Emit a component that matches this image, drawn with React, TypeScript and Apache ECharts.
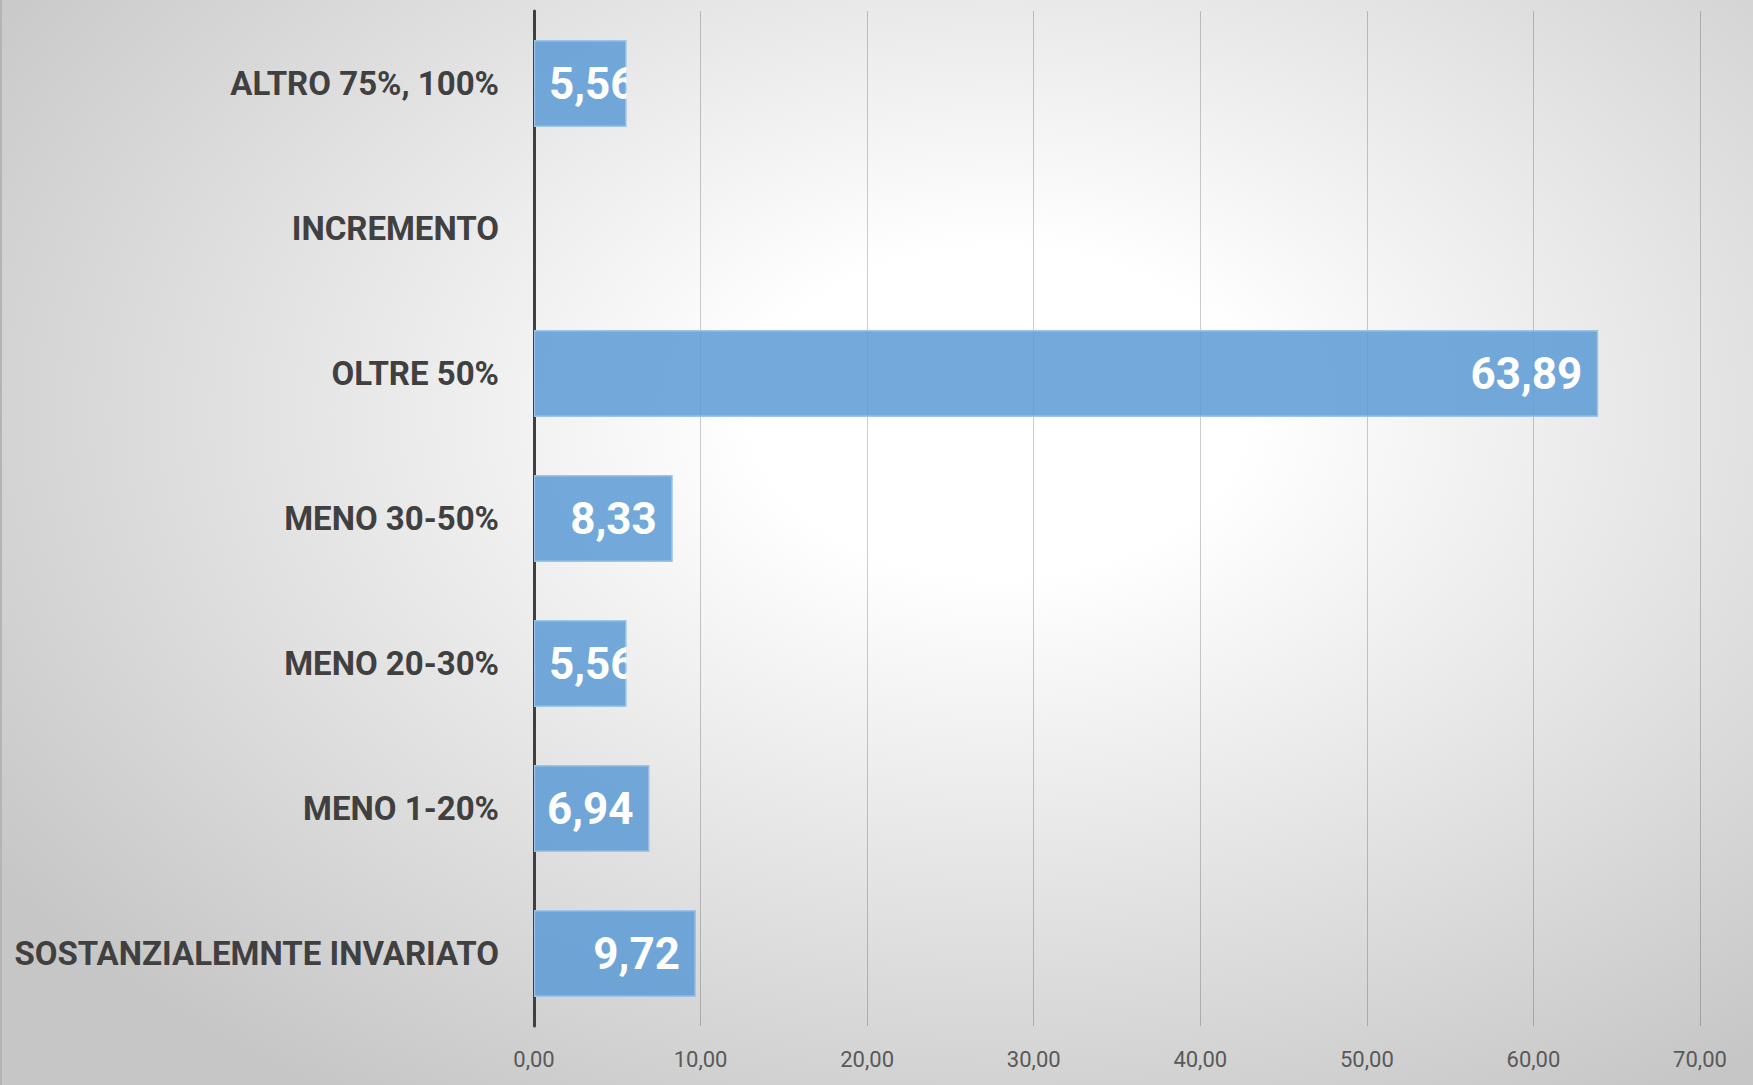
import React, { useEffect, useRef } from "react";
import * as echarts from "echarts";

const categories = [
  "SOSTANZIALEMNTE INVARIATO",
  "MENO 1-20%",
  "MENO 20-30%",
  "MENO 30-50%",
  "OLTRE 50%",
  "INCREMENTO",
  "ALTRO 75%, 100%",
];
const values: (number | null)[] = [9.72, 6.94, 5.56, 8.33, 63.89, null, 5.56];
const axisMin = 0;
const axisMax = 70;
const axisStep = 10;

const FONT = "Roboto, 'Liberation Sans', sans-serif";
const fmt = (v: number) => v.toFixed(2).replace(".", ",");
const BAR_RATIO = 0.6;

export default function App() {
  const ref = useRef<HTMLDivElement>(null);
  useEffect(() => {
    if (!ref.current) return;
    const chart = echarts.init(ref.current, undefined, { renderer: "svg" });
    const labelData = values
      .map((v, i) => (v == null ? null : [v, i]))
      .filter((d) => d != null);
    chart.setOption({
      animation: false,
      backgroundColor: "transparent",
      grid: {
        left: 534,
        right: 53,
        top: 11,
        bottom: 59,
        containLabel: false,
        outerBoundsMode: "none",
      },
      xAxis: {
        type: "value",
        min: axisMin,
        max: axisMax,
        interval: axisStep,
        axisLine: { show: false },
        axisTick: { show: false },
        splitLine: { show: true, lineStyle: { color: "rgba(0,0,0,0.2)", width: 1 } },
        axisLabel: {
          formatter: (v: number) => fmt(v),
          color: "#595959",
          fontSize: 22,
          fontFamily: FONT,
          margin: 22,
        },
      },
      yAxis: {
        type: "category",
        data: categories,
        axisLine: { show: true, lineStyle: { color: "#404040", width: 3 } },
        axisTick: { show: false },
        axisLabel: {
          color: "#404040",
          fontSize: 33,
          fontWeight: "bold",
          fontFamily: FONT,
          margin: 35,
        },
      },
      series: [
        {
          type: "bar",
          barCategoryGap: "40%",
          itemStyle: {
            color: "rgba(91,155,213,0.85)",
            borderColor: "#9dc3e6",
            borderWidth: 1.5,
          },
          label: { show: false },
          data: values.map((v) => (v == null ? null : v)),
        },
        {
          type: "custom",
          encode: { x: 0, y: 1 },
          data: labelData,
          z: 5,
          renderItem: (params: any, api: any) => {
            const v = api.value(0);
            const cat = api.value(1);
            const p0 = api.coord([0, cat]);
            const p1 = api.coord([v, cat]);
            const h = api.size([0, 1])[1] * BAR_RATIO;
            const small = v < 6.5;
            return {
              type: "group",
              clipPath: {
                type: "rect",
                shape: { x: p0[0], y: p0[1] - h / 2, width: p1[0] - p0[0], height: h },
              },
              children: [
                {
                  type: "text",
                  x: small ? p0[0] + 15 : p1[0] - 16,
                  y: p0[1],
                  style: {
                    text: fmt(v),
                    fill: "#ffffff",
                    font: `bold 44px ${FONT}`,
                    textAlign: small ? "left" : "right",
                    textVerticalAlign: "middle",
                  },
                },
              ],
            };
          },
        },
      ],
    });
    return () => chart.dispose();
  }, []);
  return (
    <div
      style={{
        position: "absolute",
        left: 0,
        top: 0,
        width: 1753,
        height: 1085,
        background:
          "radial-gradient(ellipse 70% 75% at 57% 38%, #ffffff 0%, #ffffff 20%, #c6c6c6 100%)",
        boxShadow: "inset 2px 0 0 #b4b4b4",
      }}
    >
      <div ref={ref} style={{ width: 1753, height: 1085 }} />
    </div>
  );
}
